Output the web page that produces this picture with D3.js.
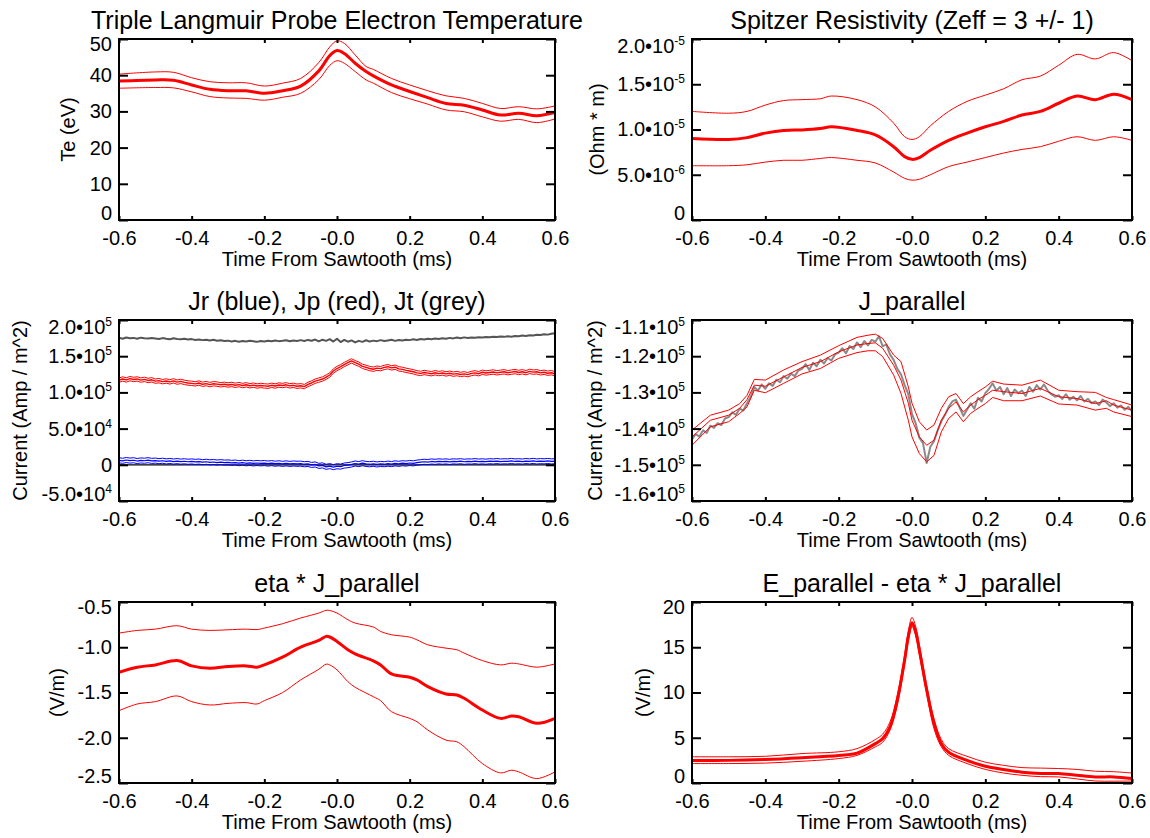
<!DOCTYPE html>
<html>
<head>
<meta charset="utf-8">
<script src="https://cdn.jsdelivr.net/npm/d3@7"></script>
<style>
  body { margin: 0; background: #fff; }
  svg text { font-family: "Liberation Sans", Arial, Helvetica, sans-serif; fill: #000; }
</style>
</head>
<body>
<svg id="fig" width="1150" height="838"></svg>
<script>
// ---------- shared time axis (ms from sawtooth crash) ----------
const xTickValues = [-0.6, -0.4, -0.2, 0, 0.2, 0.4, 0.6];
const xTickLabels = ["-0.6", "-0.4", "-0.2", "-0.0", "0.2", "0.4", "0.6"];

// ---------- Te from triple Langmuir probe (eV) ----------
const teTime = [-0.6,-0.5,-0.45,-0.4,-0.35,-0.3,-0.25,-0.2,-0.15,-0.1,-0.05,-0.02,0,0.02,0.05,0.08,0.1,0.15,0.2,0.25,0.3,0.35,0.4,0.45,0.5,0.55,0.6];
const teMid  = [38.4,38.7,38.6,37.3,36.1,35.7,35.7,35.0,35.7,37.0,41.2,45.4,46.8,46.0,43.3,41.0,39.8,37.3,35.5,33.8,32.2,31.7,30.4,29.0,29.5,28.8,29.7];
const teHigh = [40.3,40.9,40.8,39.3,38.2,37.9,37.9,37.0,37.8,39.1,43.5,47.8,49.5,48.8,45.6,42.4,41.6,39.1,37.3,35.7,34.3,33.6,32.2,30.8,31.3,30.7,31.5];
const teLow  = [36.4,36.6,36.5,35.4,34.1,33.7,33.6,33.1,33.9,35.0,38.8,42.7,44.0,43.3,41.0,38.7,37.8,35.2,33.5,32.0,30.4,29.9,28.5,27.3,27.8,26.9,27.9];
const teTicks = [0, 10, 20, 30, 40, 50];
const teTickLabels = ["0", "10", "20", "30", "40", "50"];

// ---------- Spitzer resistivity (units of 1e-6 Ohm m) ----------
const etaTime = [-0.6,-0.5,-0.45,-0.4,-0.35,-0.3,-0.25,-0.22,-0.15,-0.1,-0.05,-0.02,0,0.02,0.05,0.1,0.15,0.2,0.25,0.3,0.35,0.4,0.45,0.5,0.55,0.6];
const etaMid  = [9.0,8.9,9.1,9.6,9.9,9.95,10.1,10.3,9.9,9.4,8.1,7.0,6.7,6.9,7.7,8.8,9.6,10.3,10.9,11.6,12.0,12.9,13.7,13.3,13.9,13.3];
const etaHigh = [12.0,11.8,12.0,12.7,13.2,13.3,13.4,13.7,13.3,12.5,10.7,9.2,8.9,9.2,10.4,12.0,13.1,13.8,14.5,15.5,15.9,17.1,18.3,17.8,18.5,17.6];
const etaLow  = [6.0,6.0,6.1,6.4,6.6,6.6,6.8,6.9,6.6,6.3,5.3,4.6,4.4,4.5,5.0,5.9,6.4,6.9,7.4,7.8,8.1,8.7,9.2,8.8,9.2,8.8];
const etaTicks = [0, 5, 10, 15, 20];
const etaTickLabels = ["0", "5.0\u202210^-6", "1.0\u202210^-5", "1.5\u202210^-5", "2.0\u202210^-5"];

// ---------- current density components (units of 1e4 A/m^2), sampled every 0.01 ms ----------
const fineTime = d3.range(121).map(i => -0.6 + i * 0.01);
const jtValues = [
  17.55,17.42,17.58,17.47,17.53,17.40,17.56,17.49,17.44,17.52,
  17.46,17.38,17.50,17.41,17.35,17.47,17.39,17.33,17.42,17.30,
  17.36,17.25,17.31,17.22,17.28,17.17,17.26,17.14,17.21,17.10,
  17.15,17.04,17.12,17.00,17.09,17.02,17.13,17.05,16.98,17.10,
  17.03,17.14,17.06,17.18,17.08,17.12,17.20,17.07,17.16,17.11,
  17.22,17.10,17.25,17.14,17.30,17.05,17.28,17.12,17.35,17.02,
  17.40,16.95,17.25,17.00,17.18,16.90,17.12,16.98,17.20,17.02,
  17.15,17.08,17.22,17.10,17.18,17.26,17.12,17.24,17.16,17.28,
  17.22,17.33,17.25,17.38,17.30,17.41,17.34,17.45,17.37,17.48,
  17.42,17.53,17.46,17.57,17.49,17.60,17.52,17.58,17.55,17.63,
  17.58,17.66,17.61,17.70,17.64,17.72,17.67,17.75,17.70,17.79,
  17.76,17.85,17.80,17.90,17.86,17.95,17.92,18.02,17.98,18.10,18.18];
const jpValues = [
  11.70,11.85,11.72,11.90,11.78,11.86,11.70,11.80,11.65,11.74,
  11.55,11.62,11.48,11.58,11.45,11.60,11.42,11.52,11.38,11.30,
  11.25,11.18,11.30,11.12,11.22,11.08,11.20,11.15,11.05,11.12,
  11.02,11.10,10.98,11.08,10.95,11.05,10.92,11.00,10.88,10.96,
  10.90,10.85,10.98,10.88,11.02,10.95,11.05,10.90,10.98,10.85,
  10.92,10.80,11.10,11.30,11.55,11.70,11.85,12.10,12.40,12.95,
  13.30,13.55,13.85,14.10,14.35,14.10,13.90,13.60,13.45,13.30,
  13.20,13.35,13.28,13.45,13.55,13.38,13.48,13.25,13.18,13.05,
  12.95,12.85,12.70,12.62,12.75,12.66,12.58,12.72,12.60,12.68,
  12.55,12.65,12.52,12.60,12.48,12.56,12.45,12.62,12.70,12.58,
  12.78,12.68,12.75,12.82,12.70,12.78,12.85,12.72,12.80,12.88,
  12.75,12.85,12.72,12.90,12.80,12.85,12.70,12.78,12.65,12.72,12.58];
const jrValues = [
  0.62,0.55,0.66,0.58,0.63,0.52,0.60,0.56,0.64,0.54,
  0.58,0.50,0.56,0.47,0.53,0.45,0.51,0.44,0.49,0.42,
  0.47,0.40,0.45,0.36,0.42,0.34,0.39,0.31,0.37,0.30,
  0.33,0.26,0.31,0.22,0.29,0.21,0.27,0.19,0.25,0.20,
  0.24,0.17,0.23,0.15,0.21,0.13,0.20,0.12,0.18,0.14,
  0.16,0.08,0.12,-0.02,0.05,-0.15,-0.08,-0.28,-0.18,-0.32,
  -0.20,-0.25,-0.10,-0.05,0.05,0.18,0.10,0.22,0.12,0.08,
  0.14,0.05,0.12,0.08,0.16,0.10,0.20,0.13,0.22,0.17,
  0.25,0.20,0.30,0.36,0.42,0.38,0.46,0.41,0.48,0.43,
  0.47,0.40,0.48,0.44,0.50,0.42,0.47,0.45,0.51,0.44,
  0.48,0.43,0.50,0.46,0.52,0.45,0.49,0.47,0.53,0.46,
  0.50,0.45,0.52,0.47,0.54,0.46,0.51,0.48,0.53,0.47,0.50];
const jpSpread = 0.3;   // one-sigma band on Jp
const jrSpread = 0.35;  // one-sigma band on Jr
const zeroTime = [-0.6, 0.6];
const zeroLine = [0, 0];
const jTicks = [-5, 0, 5, 10, 15, 20];
const jTickLabels = ["-5.0\u202210^4", "0", "5.0\u202210^4", "1.0\u202210^5", "1.5\u202210^5", "2.0\u202210^5"];

// ---------- J_parallel (units of 1e4 A/m^2) ----------
const jparRaw = [
  -14.30,-14.15,-14.22,-14.05,-14.12,-13.92,-13.98,-13.85,-13.90,-13.72,
  -13.68,-13.55,-13.62,-13.45,-13.50,-13.30,-13.12,-12.85,-12.95,-12.78,
  -12.90,-12.75,-12.82,-12.65,-12.72,-12.55,-12.62,-12.48,-12.55,-12.40,
  -12.35,-12.22,-12.38,-12.18,-12.28,-12.10,-12.20,-12.05,-12.12,-11.95,
  -11.90,-11.78,-11.92,-11.72,-11.80,-11.62,-11.75,-11.58,-11.70,-11.55,
  -11.60,-11.45,-11.72,-11.68,-11.95,-12.10,-12.35,-12.50,-12.80,-13.05,
  -13.60,-13.85,-14.25,-14.40,-14.95,-14.50,-14.35,-14.05,-13.80,-13.62,
  -13.40,-13.25,-13.20,-13.42,-13.65,-13.48,-13.30,-13.45,-13.15,-13.25,
  -13.02,-12.90,-12.75,-12.95,-12.85,-13.05,-12.88,-13.10,-12.92,-13.02,
  -12.95,-13.10,-12.85,-12.98,-12.80,-12.92,-12.78,-12.95,-13.05,-13.12,
  -13.08,-13.18,-13.05,-13.20,-13.12,-13.22,-13.10,-13.25,-13.18,-13.30,
  -13.25,-13.35,-13.20,-13.28,-13.38,-13.30,-13.42,-13.36,-13.48,-13.40,-13.52];
const jparTime = [-0.6,-0.55,-0.5,-0.47,-0.45,-0.43,-0.4,-0.35,-0.3,-0.25,-0.2,-0.15,-0.12,-0.1,-0.08,-0.05,-0.03,-0.01,0,0.02,0.04,0.06,0.08,0.1,0.12,0.14,0.16,0.18,0.2,0.22,0.25,0.3,0.35,0.4,0.45,0.5,0.53,0.55,0.6];
const jparMid  = [-14.23,-13.77,-13.63,-13.44,-13.2,-12.8,-12.83,-12.57,-12.31,-12.15,-11.88,-11.69,-11.65,-11.63,-11.78,-12.25,-12.66,-13.3,-13.77,-14.23,-14.46,-14.32,-13.77,-13.44,-13.26,-13.54,-13.35,-13.2,-13.08,-12.94,-12.98,-13.03,-12.89,-13.12,-13.17,-13.31,-13.23,-13.35,-13.49];
const jparHigh = [-14.04,-13.63,-13.49,-13.31,-13.08,-12.64,-12.66,-12.38,-12.15,-11.97,-11.71,-11.48,-11.42,-11.39,-11.51,-11.97,-12.15,-12.85,-13.3,-13.81,-14.04,-13.9,-13.44,-13.12,-13.03,-13.31,-13.12,-12.98,-12.85,-12.69,-12.77,-12.8,-12.66,-12.94,-12.98,-13.0,-13.14,-13.2,-13.35];
const jparLow  = [-14.46,-13.95,-13.81,-13.58,-13.4,-12.94,-13.01,-12.75,-12.49,-12.34,-12.06,-11.9,-11.85,-11.85,-12.01,-12.52,-13.03,-13.77,-14.23,-14.69,-14.92,-14.74,-14.09,-13.72,-13.54,-13.81,-13.58,-13.44,-13.31,-13.14,-13.23,-13.23,-13.1,-13.32,-13.35,-13.49,-13.44,-13.54,-13.67];
const jparTicks = [-16, -15, -14, -13, -12, -11];
const jparTickLabels = ["-1.6\u202210^5", "-1.5\u202210^5", "-1.4\u202210^5", "-1.3\u202210^5", "-1.2\u202210^5", "-1.1\u202210^5"];

// ---------- eta * J_parallel (V/m) ----------
const ejTime = [-0.6,-0.55,-0.5,-0.44,-0.4,-0.35,-0.3,-0.25,-0.22,-0.2,-0.15,-0.1,-0.05,-0.03,-0.02,0,0.03,0.05,0.1,0.12,0.15,0.2,0.22,0.25,0.3,0.33,0.35,0.4,0.45,0.48,0.5,0.55,0.6];
const ejMid  = [-1.276,-1.22,-1.195,-1.147,-1.206,-1.232,-1.213,-1.206,-1.22,-1.195,-1.11,-0.999,-0.925,-0.88,-0.887,-0.936,-1.028,-1.073,-1.15,-1.195,-1.295,-1.332,-1.361,-1.435,-1.516,-1.527,-1.564,-1.694,-1.786,-1.76,-1.768,-1.841,-1.786];
const ejHigh = [-0.844,-0.814,-0.8,-0.762,-0.8,-0.814,-0.807,-0.8,-0.805,-0.788,-0.74,-0.677,-0.622,-0.592,-0.594,-0.622,-0.696,-0.733,-0.777,-0.825,-0.862,-0.888,-0.918,-0.973,-1.01,-1.028,-1.065,-1.147,-1.195,-1.176,-1.184,-1.22,-1.184];
const ejLow  = [-1.701,-1.627,-1.601,-1.538,-1.601,-1.638,-1.62,-1.612,-1.627,-1.59,-1.501,-1.361,-1.243,-1.187,-1.195,-1.25,-1.38,-1.442,-1.546,-1.59,-1.712,-1.786,-1.823,-1.915,-2.026,-2.045,-2.1,-2.285,-2.388,-2.359,-2.377,-2.451,-2.377];
const ejTicks = [-2.5, -2.0, -1.5, -1.0, -0.5];
const ejTickLabels = ["-2.5", "-2.0", "-1.5", "-1.0", "-0.5"];

// ---------- E_parallel - eta * J_parallel (V/m) ----------
const epTime = [-0.6,-0.5,-0.4,-0.3,-0.2,-0.15,-0.1,-0.08,-0.06,-0.04,-0.02,-0.01,0,0.01,0.02,0.04,0.06,0.08,0.1,0.15,0.2,0.25,0.3,0.35,0.4,0.45,0.5,0.55,0.6];
const epMid  = [2.5,2.5,2.6,2.8,3.05,3.3,4.35,4.9,6.2,9.2,13.6,16.2,17.7,16.7,14.7,10.3,6.6,4.35,3.4,2.5,1.85,1.5,1.2,1.05,1.05,0.85,0.67,0.67,0.5];
const epHigh = [2.9,2.9,2.95,3.25,3.45,3.8,4.8,5.4,6.75,9.7,14.2,16.8,18.3,17.3,15.3,10.8,7.1,4.8,3.8,2.95,2.3,1.95,1.7,1.65,1.6,1.5,1.3,1.25,1.1];
const epLow  = [2.15,2.15,2.2,2.4,2.7,3.05,4.0,4.5,5.85,8.6,13.2,15.7,17.3,16.3,14.2,9.9,6.0,4.0,3.05,2.15,1.5,1.1,0.85,0.7,0.67,0.45,0.22,0.2,0.22];
const epTicks = [0, 5, 10, 15, 20];
const epTickLabels = ["0", "5", "10", "15", "20"];

// ---------- drawing ----------
const FONT = '"Liberation Sans", Arial, Helvetica, sans-serif';
const RED = "#ff0000", BLUE = "#0000ff";
const svg = d3.select("#fig");
const smooth = d3.curveCatmullRom.alpha(0.5);

function drawPanel(p) {
  const x = d3.scaleLinear().domain([-0.6, 0.6]).range([p.left, p.left + p.width]);
  const y = d3.scaleLinear().domain(p.yDomain).range([p.top + p.height, p.top]);
  const g = svg.append("g");

  const clipId = "clip-" + p.id;
  g.append("clipPath").attr("id", clipId).append("rect")
    .attr("x", p.left).attr("y", p.top).attr("width", p.width).attr("height", p.height);
  const plot = g.append("g").attr("clip-path", `url(#${clipId})`);

  p.series.forEach(s => {
    const line = d3.line()
      .x((d, i) => x(s.t[i]))
      .y(d => y(d))
      .curve(s.curve || d3.curveLinear);
    plot.append("path").datum(s.v)
      .attr("fill", "none")
      .attr("stroke", s.color)
      .attr("stroke-width", s.w)
      .attr("stroke-linejoin", "round")
      .attr("d", line);
  });

  // inward ticks on all four sides
  const axB = d3.axisBottom(x).tickValues(xTickValues)
    .tickFormat((d, i) => xTickLabels[i]).tickSizeInner(-4).tickSizeOuter(0).tickPadding(11);
  g.append("g").attr("transform", `translate(0,${p.top + p.height})`).call(axB);
  const axT = d3.axisTop(x).tickValues(xTickValues).tickFormat("").tickSizeInner(-4).tickSizeOuter(0);
  g.append("g").attr("transform", `translate(0,${p.top})`).call(axT);
  const axL = d3.axisLeft(y).tickValues(p.yTicks)
    .tickFormat((d, i) => p.yTickLabels[i]).tickSizeInner(-9).tickSizeOuter(0).tickPadding(7);
  const gl = g.append("g").attr("transform", `translate(${p.left},0)`).call(axL);
  const axR = d3.axisRight(y).tickValues(p.yTicks).tickFormat("").tickSizeInner(-9).tickSizeOuter(0);
  g.append("g").attr("transform", `translate(${p.left + p.width},0)`).call(axR);

  g.selectAll(".domain").remove();
  g.selectAll(".tick line").attr("stroke", "#000").attr("stroke-width", 2);
  g.selectAll(".tick text").attr("font-size", 20).attr("font-family", FONT).attr("fill", "#000");

  // y labels: exponent as superscript, end labels kept inside the frame height
  const yMin = d3.min(p.yTicks), yMax = d3.max(p.yTicks);
  gl.selectAll(".tick text").each(function (d, i) {
    const parts = p.yTickLabels[i].split("^");
    const t = d3.select(this);
    t.text(parts[0]);
    if (parts[1]) t.append("tspan").attr("font-size", 12).attr("dy", -8).text(parts[1]);
    if (d === yMax) t.attr("y", parts[1] ? 7 : 5);
    if (d === yMin) t.attr("y", -6.5);
  });

  g.append("rect")
    .attr("x", p.left).attr("y", p.top).attr("width", p.width).attr("height", p.height)
    .attr("fill", "none").attr("stroke", "#000").attr("stroke-width", 2);

  g.append("text")
    .attr("x", p.left + p.width / 2).attr("y", p.top - 10)
    .attr("text-anchor", "middle").attr("font-size", 25).text(p.title);
  g.append("text")
    .attr("x", p.left + p.width / 2).attr("y", p.top + p.height + 46)
    .attr("text-anchor", "middle").attr("font-size", 20).text("Time From Sawtooth (ms)");
  g.append("text")
    .attr("transform", `translate(${p.yLabelX},${p.top + p.height / 2}) rotate(-90)`)
    .attr("dy", "0.35em")
    .attr("text-anchor", "middle").attr("font-size", 20).text(p.yLabel);
}

const colL = { left: 119, width: 436 };
const colR = { left: 692, width: 440 };
const rows = [39, 320, 602];
const H = 181;

drawPanel({
  id: "te", ...colL, top: rows[0], height: H, yDomain: [0, 50],
  yTicks: teTicks, yTickLabels: teTickLabels, yLabelX: 68,
  title: "Triple Langmuir Probe Electron Temperature", yLabel: "Te (eV)",
  series: [
    { t: teTime, v: teHigh, color: RED, w: 1, curve: smooth },
    { t: teTime, v: teLow, color: RED, w: 1, curve: smooth },
    { t: teTime, v: teMid, color: RED, w: 3, curve: smooth }
  ]
});

drawPanel({
  id: "eta", ...colR, top: rows[0], height: H, yDomain: [0, 20],
  yTicks: etaTicks, yTickLabels: etaTickLabels, yLabelX: 597,
  title: "Spitzer Resistivity (Zeff = 3 +/- 1)", yLabel: "(Ohm * m)",
  series: [
    { t: etaTime, v: etaHigh, color: RED, w: 1, curve: smooth },
    { t: etaTime, v: etaLow, color: RED, w: 1, curve: smooth },
    { t: etaTime, v: etaMid, color: RED, w: 3, curve: smooth }
  ]
});

drawPanel({
  id: "jcomp", ...colL, top: rows[1], height: H, yDomain: [-5, 20],
  yTicks: jTicks, yTickLabels: jTickLabels, yLabelX: 20,
  title: "Jr (blue), Jp (red), Jt (grey)", yLabel: "Current (Amp / m^2)",
  series: [
    { t: zeroTime, v: zeroLine, color: "#000", w: 1.2 },
    { t: fineTime, v: jtValues, color: "#555555", w: 2 },
    { t: fineTime, v: jpValues.map(v => v + jpSpread), color: RED, w: 1 },
    { t: fineTime, v: jpValues.map(v => v - jpSpread), color: RED, w: 1 },
    { t: fineTime, v: jpValues, color: RED, w: 1.4 },
    { t: fineTime, v: jrValues.map(v => v + jrSpread), color: BLUE, w: 1 },
    { t: fineTime, v: jrValues.map(v => v - jrSpread), color: BLUE, w: 1 },
    { t: fineTime, v: jrValues, color: BLUE, w: 1.2 }
  ]
});

drawPanel({
  id: "jpar", ...colR, top: rows[1], height: H, yDomain: [-16, -11],
  yTicks: jparTicks, yTickLabels: jparTickLabels, yLabelX: 595,
  title: "J_parallel", yLabel: "Current (Amp / m^2)",
  series: [
    { t: fineTime, v: jparRaw, color: "#8a8a8a", w: 2 },
    { t: jparTime, v: jparHigh, color: RED, w: 1 },
    { t: jparTime, v: jparLow, color: RED, w: 1 },
    { t: jparTime, v: jparMid, color: RED, w: 1 }
  ]
});

drawPanel({
  id: "etaj", ...colL, top: rows[2], height: H, yDomain: [-2.5, -0.5],
  yTicks: ejTicks, yTickLabels: ejTickLabels, yLabelX: 57,
  title: "eta * J_parallel", yLabel: "(V/m)",
  series: [
    { t: ejTime, v: ejHigh, color: RED, w: 1, curve: smooth },
    { t: ejTime, v: ejLow, color: RED, w: 1, curve: smooth },
    { t: ejTime, v: ejMid, color: RED, w: 3, curve: smooth }
  ]
});

drawPanel({
  id: "epar", ...colR, top: rows[2], height: H, yDomain: [0, 20],
  yTicks: epTicks, yTickLabels: epTickLabels, yLabelX: 643,
  title: "E_parallel - eta * J_parallel", yLabel: "(V/m)",
  series: [
    { t: epTime, v: epHigh, color: RED, w: 1, curve: smooth },
    { t: epTime, v: epLow, color: RED, w: 1, curve: smooth },
    { t: epTime, v: epMid, color: RED, w: 3, curve: smooth }
  ]
});
</script>
</body>
</html>
